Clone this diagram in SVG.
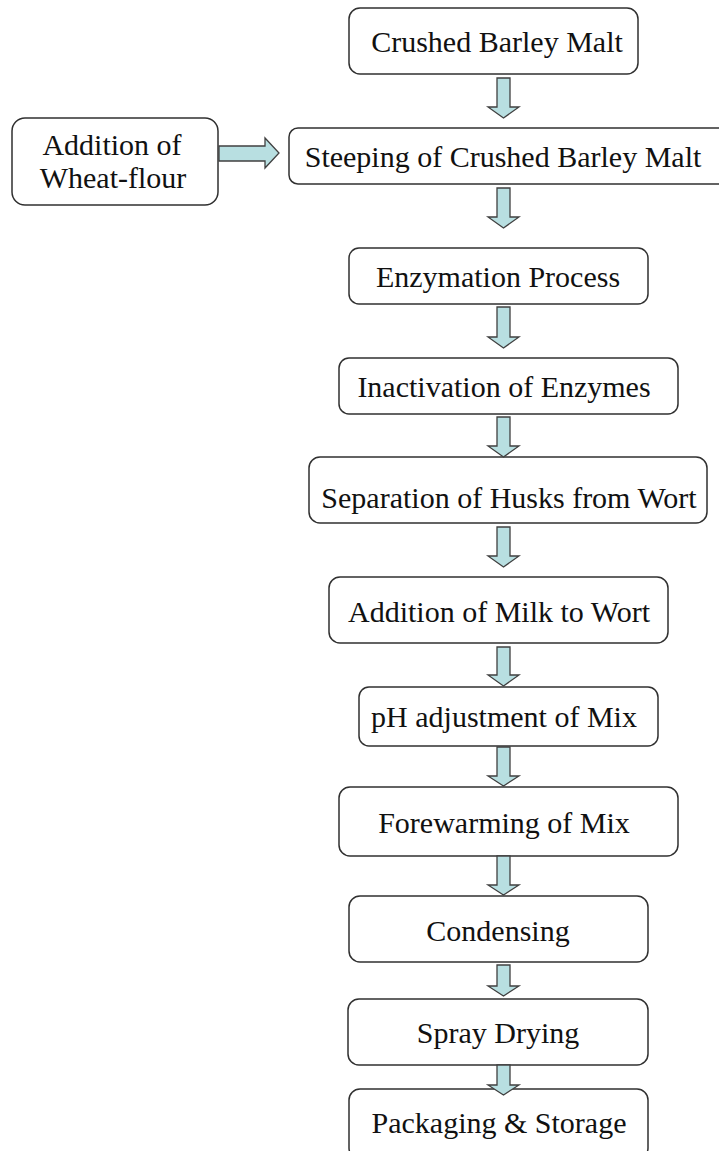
<svg xmlns="http://www.w3.org/2000/svg" width="719" height="1151" viewBox="0 0 719 1151">
<style>
.box{fill:#ffffff;stroke:#303030;stroke-width:1.5}
.t{font-family:"Liberation Serif","Times New Roman",serif;font-size:30px;fill:#111;text-anchor:middle}
.arr{fill:#b8dfe1;stroke:#404040;stroke-width:1.3;stroke-linejoin:miter}
</style>
<rect width="719" height="1151" fill="#ffffff"/>
<g id="n1"><rect class="box" x="349" y="8" width="289" height="66" rx="11"/><text class="t" x="497" y="52">Crushed Barley Malt</text></g>
<g id="n0"><rect class="box" x="12" y="118" width="206" height="87" rx="13"/><text class="t" x="112" y="155">Addition of</text><text class="t" x="113" y="188">Wheat-flour</text></g>
<g id="n2"><rect class="box" x="289" y="128" width="440" height="56" rx="9"/><text class="t" x="503" y="167">Steeping of Crushed Barley Malt</text></g>
<g id="n3"><rect class="box" x="349" y="248" width="299" height="56" rx="10"/><text class="t" x="498" y="287">Enzymation Process</text></g>
<g id="n4"><rect class="box" x="339" y="358" width="339" height="56" rx="10"/><text class="t" x="504" y="397">Inactivation of Enzymes</text></g>
<g id="n5"><rect class="box" x="309" y="457" width="398" height="66" rx="11"/><text class="t" x="509" y="508">Separation of Husks from Wort</text></g>
<g id="n6"><rect class="box" x="329" y="577" width="339" height="66" rx="11"/><text class="t" x="499" y="622">Addition of Milk to Wort</text></g>
<g id="n7"><rect class="box" x="359" y="687" width="299" height="59" rx="10"/><text class="t" x="504" y="727">pH adjustment of Mix</text></g>
<g id="n8"><rect class="box" x="339" y="787" width="339" height="69" rx="11"/><text class="t" x="504" y="833">Forewarming of Mix</text></g>
<g id="n9"><rect class="box" x="349" y="896" width="299" height="66" rx="11"/><text class="t" x="498" y="941">Condensing</text></g>
<g id="n10"><rect class="box" x="348" y="999" width="300" height="66" rx="11"/><text class="t" x="498" y="1043">Spray Drying</text></g>
<g id="n11"><rect class="box" x="349" y="1089" width="299" height="70" rx="11"/><text class="t" x="499" y="1133">Packaging &amp; Storage</text></g>
<g id="connectors">
<polygon class="arr" points="219,146 265,146 265,138 279,153 265,168 265,161 219,161"/>
<polygon class="arr" points="497,78 510,78 510,107 519,107 503.5,118 488,107 497,107"/>
<polygon class="arr" points="497,188 510,188 510,217 519,217 503.5,228 488,217 497,217"/>
<polygon class="arr" points="497,307 510,307 510,337 519,337 503.5,348 488,337 497,337"/>
<polygon class="arr" points="497,417 510,417 510,446 519,446 503.5,457 488,446 497,446"/>
<polygon class="arr" points="497,527 510,527 510,556 519,556 503.5,567 488,556 497,556"/>
<polygon class="arr" points="497,647 510,647 510,675 519,675 503.5,686 488,675 497,675"/>
<polygon class="arr" points="497,747 510,747 510,776 519,776 503.5,786 488,776 497,776"/>
<polygon class="arr" points="497,856 510,856 510,885 519,885 503.5,895 488,885 497,885"/>
<polygon class="arr" points="497,965 510,965 510,986 519,986 503.5,996 488,986 497,986"/>
<polygon class="arr" points="497,1065 510,1065 510,1085 519,1085 503.5,1095 488,1085 497,1085"/>
</g>
</svg>
